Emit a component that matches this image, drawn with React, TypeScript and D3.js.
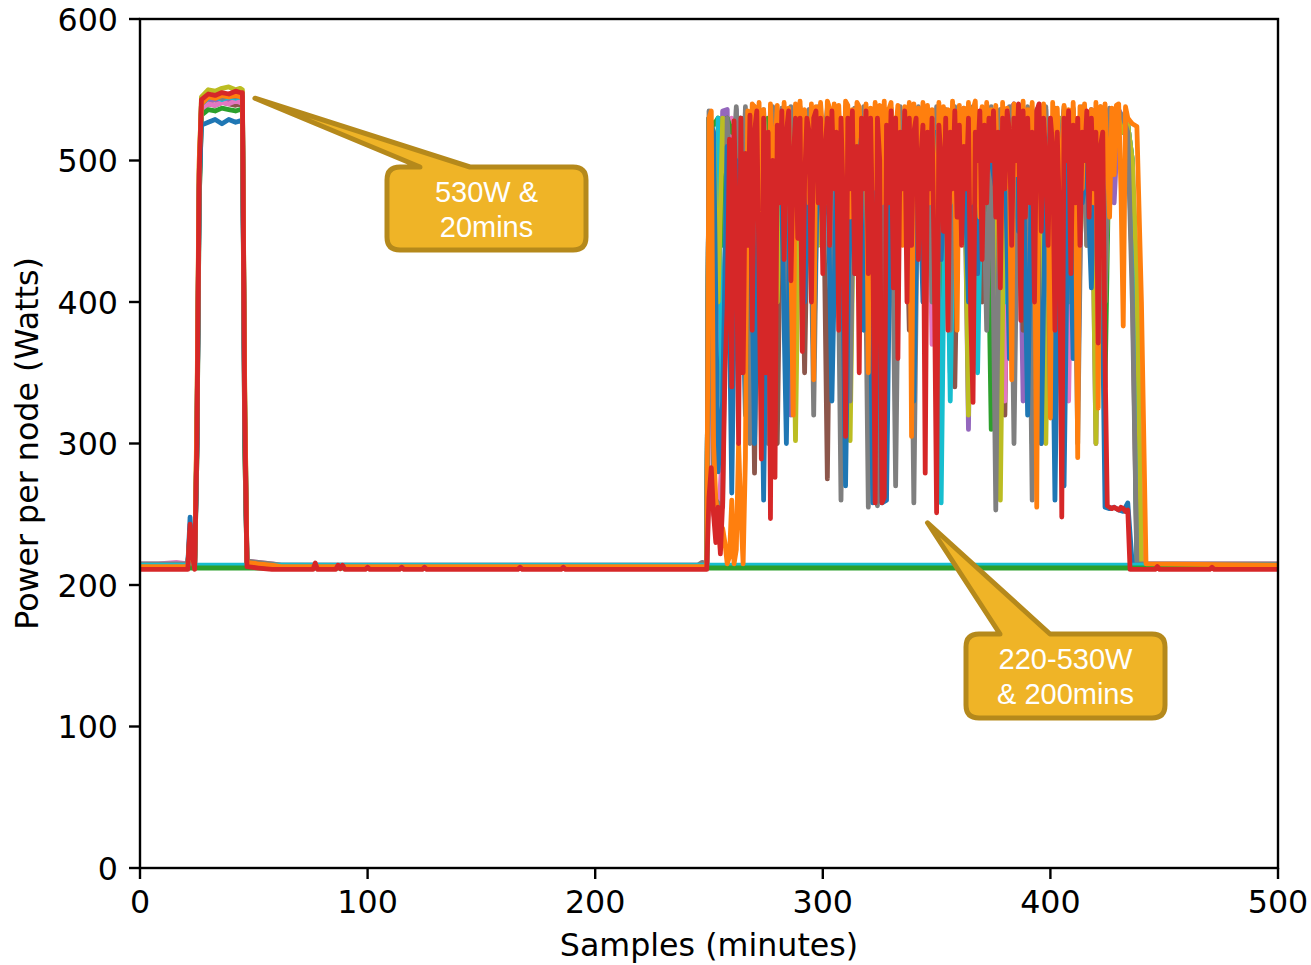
import React from "react";
import * as d3 from "d3";

// ---- Axis ticks -------------------------------------------------------
const xTicks = [0, 100, 200, 300, 400, 500];
const yTicks = [0, 100, 200, 300, 400, 500, 600];

// ---- Sampling grids (minutes) ----------------------------------------
const headMinutes = [0, 8, 16, 21, 22, 23, 24, 25, 26, 27, 30, 33, 36, 39, 42, 44, 45, 46, 47, 52, 58, 62];
const minuteBusyMinutes = d3.range(250, 437, 1); // 187 samples
const fineBusyMinutes = d3.range(250, 437, 2); // 94 samples

// ---- Warm-up burst (0-62 min), watts --------------------------------
const blueHead = [213, 213, 213, 214, 248, 222, 213, 300, 480, 525, 527, 529, 526, 529, 527, 528, 527, 330, 216, 215, 214, 213];
const orangeHead = [213, 213, 213, 213, 238, 220, 212, 320, 500, 540, 545, 544, 546, 545, 546, 545, 544, 340, 216, 215, 214, 213];
const greenHead = [213, 213, 213, 213, 215, 214, 213, 290, 470, 532, 536, 535, 537, 536, 535, 536, 535, 300, 214, 213, 213, 213];
const redHead = [211, 211, 211, 211, 243, 222, 211, 300, 490, 543, 547, 546, 548, 547, 549, 548, 548, 320, 213, 212, 211, 211];
const purpleHead = [214, 214, 214, 214, 236, 218, 213, 300, 480, 538, 542, 543, 541, 543, 542, 543, 542, 310, 216, 215, 214, 213];
const brownHead = [214, 214, 214, 214, 232, 217, 213, 290, 470, 536, 540, 539, 541, 540, 539, 540, 539, 300, 215, 214, 213, 213];
const pinkHead = [215, 215, 216, 215, 234, 218, 214, 300, 480, 536, 540, 539, 541, 540, 542, 541, 540, 310, 217, 216, 215, 214];
const grayHead = [215, 215, 215, 215, 240, 219, 214, 310, 490, 540, 545, 546, 544, 546, 545, 546, 545, 330, 217, 216, 215, 214];
const oliveHead = [214, 214, 214, 214, 238, 219, 213, 310, 495, 545, 550, 549, 551, 552, 550, 551, 550, 340, 216, 215, 214, 213];
const cyanHead = [214, 214, 214, 214, 236, 218, 213, 300, 485, 540, 544, 545, 543, 545, 544, 545, 544, 320, 215, 214, 214, 214];

// ---- Idle stretch between the two jobs -------------------------------
const blueIdle = [[249, 213]];
const orangeIdle = [[249, 213]];
const greenIdle = [[249, 213]];
const redIdle = [
  [76, 211], [77, 215.5], [78, 211], [86, 211], [87, 214], [88, 211.5], [89, 214], [90, 211],
  [99, 211], [100, 212.5], [101, 211], [114, 211], [115, 212.5], [116, 211], [124, 211], [125, 212.5],
  [126, 211], [166, 211], [167, 212.5], [168, 211], [185, 211], [186, 212.5], [187, 211], [249, 211],
];
const purpleIdle = [[249, 213]];
const brownIdle = [[249, 213]];
const pinkIdle = [[249, 214]];
const grayIdle = [[245, 214], [247, 216], [249, 215]];
const oliveIdle = [[249, 213]];
const cyanIdle = [[249, 213]];

// ---- Main job (250-436 min), watts -----------------------------------
// one value per minute
const redBusy = [
  262, 283, 250, 230, 255, 222, 258, 350, 398, 515,
  340, 528, 460, 300, 530, 350, 505, 440, 532, 380,
  520, 535, 420, 289, 530, 350, 520, 247, 500, 276,
  525, 470, 535, 430, 520, 535, 415, 500, 530, 445,
  530, 365, 485, 530, 520, 400, 530, 535, 470, 530,
  420, 510, 530, 440, 535, 480, 520, 380, 530, 470,
  305, 530, 480, 535, 420, 510, 350, 530, 480, 535,
  420, 530, 440, 258, 530, 500, 258, 262, 525, 470,
  535, 410, 530, 360, 520, 480, 535, 400, 530, 440,
  520, 530, 430, 500, 525, 279, 520, 480, 530, 420,
  251, 525, 500, 450, 530, 380, 520, 480, 535, 460,
  525, 440, 510, 480, 530, 390, 329, 520, 500, 535,
  430, 525, 470, 530, 500, 535, 460, 520, 410, 530,
  480, 535, 520, 440, 530, 500, 540, 387, 535, 460,
  530, 470, 520, 400, 535, 540, 450, 530, 500, 440,
  530, 510, 380, 520, 460, 248, 530, 500, 535, 420,
  525, 470, 530, 440, 520, 500, 535, 460, 530, 480,
  520, 371, 510, 520, 360, 256, 255, 254, 255, 254,
  253, 255, 254, 252, 253, 211, 211,
];
const orangeBusy = [
  530, 535, 300, 260, 250, 225, 240, 230, 215, 220,
  260, 215, 225, 300, 250, 215, 290, 535, 470, 540,
  538, 500, 541, 460, 536, 480, 420, 540, 495, 510,
  539, 470, 480, 541, 500, 537, 430, 320, 540, 465,
  542, 500, 536, 490, 470, 540, 345, 538, 480, 541,
  520, 470, 542, 537, 480, 540, 500, 539, 500, 460,
  542, 539, 460, 536, 470, 541, 538, 510, 490, 540,
  350, 537, 480, 541, 500, 539, 470, 542, 470, 536,
  541, 490, 520, 539, 460, 440, 538, 500, 541, 305,
  540, 480, 537, 500, 541, 470, 539, 470, 536, 490,
  330, 541, 480, 538, 510, 536, 470, 542, 495, 380,
  539, 480, 537, 490, 541, 470, 536, 542, 500, 460,
  538, 480, 541, 500, 536, 500, 539, 470, 420, 541,
  480, 537, 500, 345, 540, 490, 538, 470, 542, 480,
  536, 500, 541, 480, 255, 538, 470, 540, 500, 500,
  318, 541, 480, 537, 490, 480, 539, 500, 536, 470,
  541, 490, 290, 538, 480, 540, 500, 500, 536, 470,
  541, 325, 538, 480, 540, 500, 460, 537, 490, 539,
  540, 480, 383, 538, 530, 528, 526,
];
// one value every two minutes
const blueBusy = [
  530, 520, 280, 330, 510, 265, 500, 470, 320, 520,
  300, 490, 260, 510, 280, 520, 470, 300, 510, 460,
  520, 400, 510, 360, 520, 450, 510, 330, 490, 520,
  270, 500, 420, 520, 380, 520, 258, 500, 258, 260,
  510, 440, 520, 470, 510, 330, 520, 400, 510, 470,
  520, 430, 500, 480, 520, 470, 510, 400, 500, 420,
  520, 510, 500, 480, 520, 510, 360, 500, 450, 510,
  320, 520, 480, 300, 500, 520, 260, 500, 270, 510,
  360, 520, 470, 500, 410, 520, 500, 255, 254, 255,
  253, 252, 258, 214,
];
const grayBusy = [
  535, 262, 258, 255, 530, 470, 538, 380, 538, 300,
  538, 420, 536, 300, 538, 480, 537, 350, 538, 510,
  538, 470, 536, 320, 538, 500, 537, 420, 538, 260,
  538, 330, 537, 480, 538, 255, 536, 256, 538, 300,
  537, 270, 538, 480, 536, 258, 538, 500, 537, 400,
  538, 470, 536, 380, 538, 500, 537, 440, 538, 420,
  537, 380, 538, 253, 536, 480, 538, 300, 537, 440,
  538, 260, 536, 480, 538, 330, 537, 500, 538, 400,
  537, 300, 538, 440, 536, 530, 538, 400, 537, 520,
  535, 530, 520, 400,
];
const purpleBusy = [
  530, 520, 400, 535, 536, 330, 536, 450, 535, 400,
  536, 480, 535, 380, 536, 536, 460, 536, 320, 535,
  536, 440, 536, 520, 536, 470, 536, 530, 536, 420,
  536, 500, 536, 470, 536, 535, 440, 536, 300, 536,
  536, 480, 536, 520, 536, 440, 536, 530, 536, 470,
  536, 520, 536, 350, 536, 480, 536, 310, 536, 500,
  536, 460, 536, 520, 536, 400, 536, 540, 536, 330,
  536, 480, 536, 520, 536, 440, 536, 470, 536, 520,
  536, 330, 536, 480, 536, 300, 536, 520, 536, 470,
  536, 530, 520, 480,
];
const brownBusy = [
  530, 480, 520, 300, 530, 525, 370, 530, 400, 530,
  279, 530, 460, 530, 525, 300, 530, 440, 530, 520,
  530, 350, 530, 480, 530, 525, 275, 530, 470, 530,
  420, 530, 525, 500, 530, 330, 530, 460, 530, 525,
  530, 420, 530, 525, 380, 530, 460, 530, 525, 400,
  530, 470, 530, 525, 340, 530, 500, 530, 480, 530,
  400, 530, 525, 470, 530, 320, 530, 525, 530, 380,
  530, 470, 530, 300, 530, 520, 450, 530, 525, 420,
  530, 400, 530, 470, 530, 380, 530, 520, 530, 525,
  530, 520, 525, 420,
];
const pinkBusy = [
  525, 250, 240, 300, 480, 530, 360, 530, 510, 340,
  530, 450, 520, 360, 530, 420, 530, 380, 530, 470,
  530, 500, 530, 430, 530, 470, 530, 520, 530, 330,
  530, 460, 530, 520, 530, 400, 530, 500, 530, 470,
  530, 330, 530, 520, 530, 460, 530, 480, 530, 370,
  530, 520, 530, 430, 530, 500, 530, 380, 530, 520,
  530, 470, 530, 500, 530, 330, 530, 470, 530, 520,
  530, 400, 530, 520, 530, 460, 530, 500, 530, 330,
  530, 520, 530, 440, 530, 500, 530, 400, 530, 520,
  530, 520, 525, 500,
];
const greenBusy = [
  530, 525, 530, 440, 530, 520, 530, 530, 380, 530,
  520, 530, 336, 530, 525, 530, 480, 530, 525, 530,
  530, 420, 530, 525, 530, 480, 530, 525, 530, 380,
  530, 480, 530, 520, 530, 525, 530, 440, 530, 530,
  525, 530, 500, 530, 520, 530, 460, 530, 525, 530,
  530, 310, 530, 520, 530, 480, 530, 350, 530, 525,
  530, 520, 310, 530, 520, 530, 525, 440, 530, 520,
  530, 300, 530, 520, 530, 480, 530, 525, 530, 460,
  530, 520, 530, 480, 530, 525, 530, 340, 530, 520,
  530, 520, 525, 500,
];
const oliveBusy = [
  530, 520, 400, 530, 480, 490, 530, 380, 530, 520,
  530, 460, 530, 440, 530, 400, 530, 480, 530, 302,
  530, 520, 470, 530, 440, 530, 525, 408, 530, 520,
  530, 302, 530, 450, 530, 525, 470, 530, 380, 530,
  520, 530, 470, 530, 500, 408, 530, 525, 440, 530,
  380, 530, 520, 470, 530, 500, 530, 320, 530, 470,
  530, 520, 470, 530, 260, 530, 450, 530, 525, 470,
  530, 440, 530, 520, 300, 530, 470, 530, 400, 530,
  520, 470, 530, 440, 530, 300, 530, 400, 530, 520,
  530, 520, 525, 500,
];
const cyanBusy = [
  530, 305, 530, 300, 520, 330, 530, 520, 530, 525,
  530, 520, 530, 480, 530, 525, 530, 520, 530, 460,
  525, 530, 520, 530, 480, 530, 525, 520, 530, 525,
  530, 450, 530, 520, 530, 525, 530, 520, 530, 525,
  530, 520, 530, 525, 530, 480, 530, 525, 530, 525,
  530, 258, 530, 330, 530, 525, 530, 520, 530, 350,
  530, 520, 530, 525, 530, 400, 530, 520, 530, 525,
  530, 520, 530, 460, 530, 525, 530, 520, 530, 525,
  530, 520, 530, 525, 530, 400, 530, 520, 530, 525,
  530, 520, 525, 500,
];

// ---- Cool-down after the job -----------------------------------------
const blueTail = [[440, 214], [500, 214]];
const orangeTail = [[438, 524], [440, 400], [442, 215], [500, 214]];
const greenTail = [[438, 213], [500, 213]];
const redTail = [[446, 211], [447, 213], [448, 211], [470, 211], [471, 212.5], [472, 211], [500, 211]];
const purpleTail = [[440, 214], [500, 214]];
const brownTail = [[438, 213], [500, 213]];
const pinkTail = [[438, 400], [440, 215], [500, 215]];
const grayTail = [[438, 215], [500, 215]];
const oliveTail = [[438, 420], [440, 214], [500, 214]];
const cyanTail = [[438, 214], [500, 214]];

// Nodes that stayed idle for the whole run
const idleGreen = [[0, 212], [500, 212]];
const idleCyan = [[0, 214], [500, 214]];

type Pt = [number, number];

const zip = (xs: number[], ys: number[]): Pt[] => xs.map((x, i) => [x, ys[i]] as Pt);

function node(head: number[], idle: number[][], busyX: number[], busy: number[], tail: number[][]): Pt[] {
  return [
    ...zip(headMinutes, head),
    ...(idle as Pt[]),
    ...zip(busyX, busy),
    ...(tail as Pt[]),
  ];
}

// Draw order: later entries sit on top
const series: { color: string; pts: Pt[] }[] = [
  { color: "#9467bd", pts: node(purpleHead, purpleIdle, fineBusyMinutes, purpleBusy, purpleTail) },
  { color: "#8c564b", pts: node(brownHead, brownIdle, fineBusyMinutes, brownBusy, brownTail) },
  { color: "#e377c2", pts: node(pinkHead, pinkIdle, fineBusyMinutes, pinkBusy, pinkTail) },
  { color: "#2ca02c", pts: node(greenHead, greenIdle, fineBusyMinutes, greenBusy, greenTail) },
  { color: "#17becf", pts: node(cyanHead, cyanIdle, fineBusyMinutes, cyanBusy, cyanTail) },
  { color: "#bcbd22", pts: node(oliveHead, oliveIdle, fineBusyMinutes, oliveBusy, oliveTail) },
  { color: "#7f7f7f", pts: node(grayHead, grayIdle, fineBusyMinutes, grayBusy, grayTail) },
  { color: "#1f77b4", pts: node(blueHead, blueIdle, fineBusyMinutes, blueBusy, blueTail) },
  { color: "#17becf", pts: idleCyan as Pt[] },
  { color: "#2ca02c", pts: idleGreen as Pt[] },
  { color: "#ff7f0e", pts: node(orangeHead, orangeIdle, minuteBusyMinutes, orangeBusy, orangeTail) },
  { color: "#d62728", pts: node(redHead, redIdle, minuteBusyMinutes, redBusy, redTail) },
];

// ---- Layout ------------------------------------------------------------
const W = 1311;
const H = 965;
const plot = { left: 140, right: 1278, top: 19, bottom: 868 };
const FONT = "'DejaVu Sans', sans-serif";
const FS = 31.7;

const x = d3.scaleLinear().domain([0, 500]).range([plot.left, plot.right]);
const y = d3.scaleLinear().domain([0, 600]).range([plot.bottom, plot.top]);

const line = d3
  .line<Pt>()
  .x((d) => x(d[0]))
  .y((d) => y(d[1]));

// Rounded box with a wedge pointer rising out of its top edge
function callout(bx: number, by: number, bw: number, bh: number, r: number, a: number, b: number, tx: number, ty: number) {
  return [
    `M${bx + r},${by}`,
    `L${a},${by}`,
    `L${tx},${ty}`,
    `L${b},${by}`,
    `L${bx + bw - r},${by}`,
    `Q${bx + bw},${by} ${bx + bw},${by + r}`,
    `L${bx + bw},${by + bh - r}`,
    `Q${bx + bw},${by + bh} ${bx + bw - r},${by + bh}`,
    `L${bx + r},${by + bh}`,
    `Q${bx},${by + bh} ${bx},${by + bh - r}`,
    `L${bx},${by + r}`,
    `Q${bx},${by} ${bx + r},${by}`,
    "Z",
  ].join(" ");
}

const notes = [
  { box: [387, 167, 199, 83], wedge: [420, 470], tip: [x(50.5), y(544)], lines: ["530W &", "20mins"] },
  { box: [966, 634, 199, 84], wedge: [1000, 1050], tip: [x(346), y(244)], lines: ["220-530W", "& 200mins"] },
];

export default function App() {
  return (
    <svg width={W} height={H} style={{ position: "absolute", left: 0, top: 0, background: "#fff" }}>
      <defs>
        <clipPath id="plotArea">
          <rect x={plot.left} y={plot.top} width={plot.right - plot.left} height={plot.bottom - plot.top} />
        </clipPath>
      </defs>
      <rect x={0} y={0} width={W} height={H} fill="#fff" />

      <g clipPath="url(#plotArea)">
        {series.map((s, i) => (
          <path
            key={i}
            d={line(s.pts) || ""}
            fill="none"
            stroke={s.color}
            strokeWidth={4.8}
            strokeLinejoin="round"
            strokeLinecap="round"
          />
        ))}
      </g>

      {/* frame */}
      <rect
        x={plot.left}
        y={plot.top}
        width={plot.right - plot.left}
        height={plot.bottom - plot.top}
        fill="none"
        stroke="#000"
        strokeWidth={2.4}
      />

      {/* x axis */}
      {xTicks.map((t) => (
        <g key={`x${t}`}>
          <line x1={x(t)} x2={x(t)} y1={plot.bottom} y2={plot.bottom + 11} stroke="#000" strokeWidth={2.4} />
          <text x={x(t)} y={913} fontFamily={FONT} fontSize={FS} textAnchor="middle" fill="#000">
            {t}
          </text>
        </g>
      ))}
      <text x={(plot.left + plot.right) / 2} y={956} fontFamily={FONT} fontSize={FS} textAnchor="middle" fill="#000">
        Samples (minutes)
      </text>

      {/* y axis */}
      {yTicks.map((t) => (
        <g key={`y${t}`}>
          <line x1={plot.left - 11} x2={plot.left} y1={y(t)} y2={y(t)} stroke="#000" strokeWidth={2.4} />
          <text x={118} y={y(t) + 11.5} fontFamily={FONT} fontSize={FS} textAnchor="end" fill="#000">
            {t}
          </text>
        </g>
      ))}
      <text
        transform={`translate(38,${(plot.top + plot.bottom) / 2}) rotate(-90)`}
        fontFamily={FONT}
        fontSize={FS}
        textAnchor="middle"
        fill="#000"
      >
        Power per node (Watts)
      </text>

      {/* callouts */}
      {notes.map((n, i) => {
        const [bx, by, bw, bh] = n.box;
        const cx = bx + bw / 2;
        return (
          <g key={`n${i}`}>
            <path
              d={callout(bx, by, bw, bh, 13, n.wedge[0], n.wedge[1], n.tip[0], n.tip[1])}
              fill="#efb427"
              stroke="#b5891b"
              strokeWidth={5}
              strokeLinejoin="round"
            />
            {n.lines.map((t, j) => (
              <text
                key={j}
                x={cx}
                y={by + 35 + j * 35}
                fontFamily="'Liberation Sans', Arial, sans-serif"
                fontSize={29}
                textAnchor="middle"
                fill="#fff"
              >
                {t}
              </text>
            ))}
          </g>
        );
      })}
    </svg>
  );
}
